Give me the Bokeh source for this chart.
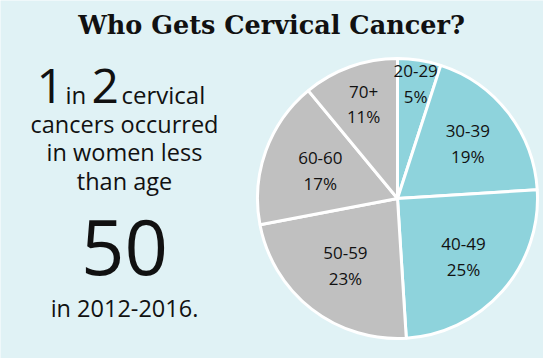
import numpy as np
from bokeh.plotting import figure
from bokeh.models import Label, ColumnDataSource
from bokeh.core.properties import value
from bokeh.embed import file_html
from bokeh.resources import INLINE

# ---- data ----
age_groups = ["20-29", "30-39", "40-49", "50-59", "60-60", "70+"]
shares_pct = [5, 19, 25, 23, 17, 11]
title_text = "Who Gets Cervical Cancer?"
headline_lines = ["cancers occurred", "in women less", "than age"]
headline_age = "50"
period_text = "in 2012-2016."

# ---- styles ----
BG = "#e0f2f5"
TEAL = "#8ed3dc"
GREY = "#c0c0c0"
slice_colors = [TEAL, TEAL, TEAL, GREY, GREY, GREY]
label_dist = [116, 89, 88, 85, 82, 100]
SANS = "Open Sans"
W, H = 543, 358
SHIFT = 0.34  # baseline correction (fraction of font size)

cx, cy, R = 397, H - 198, 140

shares = np.array(shares_pct, dtype=float)
frac = shares / shares.sum()
cum = np.concatenate([[0], np.cumsum(frac)])
theta0 = 2 * np.pi * cum[:-1]
theta1 = 2 * np.pi * cum[1:]
mid = (theta0 + theta1) / 2

src = ColumnDataSource(dict(
    start=np.pi / 2 - theta0,
    end=np.pi / 2 - theta1,
    color=slice_colors,
    age=age_groups,
    pct=[f"{int(s)}%" for s in shares_pct],
    lx=cx + np.array(label_dist) * np.sin(mid),
    ly=cy + np.array(label_dist) * np.cos(mid),
))

p = figure(width=W, height=H, x_range=(0, W), y_range=(0, H),
           output_backend="svg", toolbar_location=None, min_border=0,
           x_axis_location=None, y_axis_location=None,
           background_fill_color=BG, border_fill_color=BG,
           outline_line_color=None)
p.grid.visible = False

p.wedge(x=cx, y=cy, radius=R, start_angle="start", end_angle="end",
        direction="clock", fill_color="color", line_color="white",
        line_width=3, source=src)

p.text(x="lx", y="ly", text="age", source=src, y_offset=-12.5,
       text_font=value(SANS), text_font_size="17px", text_color="#111111",
       text_align="center", text_baseline="middle")
p.text(x="lx", y="ly", text="pct", source=src, y_offset=12.5,
       text_font=value(SANS), text_font_size="17px", text_color="#111111",
       text_align="center", text_baseline="middle")


def label(x, base_y, text, size, font=SANS, align="center", style="normal"):
    p.add_layout(Label(x=x, y=H - (base_y - SHIFT * size), text=text,
                       text_font=font, text_font_style=style,
                       text_font_size=f"{size}px", text_align=align,
                       text_baseline="alphabetic", text_color="#111111"))


# title
label(271, 33, title_text, 25.5, font="DejaVu Serif", style="bold")

# "1 in 2 cervical"
for txt, x, size in [("1", 36, 48), ("in", 65, 24),
                     ("2", 91, 48), ("cervical", 121, 24)]:
    label(x, 102, txt, size, align="left")

for i, line in enumerate(headline_lines):
    label(124, 131 + 28.5 * i, line, 23.5)

label(124, 272, headline_age, 76)
label(124, 315, period_text, 23.5)

open("out.html", "w").write(file_html(p, INLINE))
